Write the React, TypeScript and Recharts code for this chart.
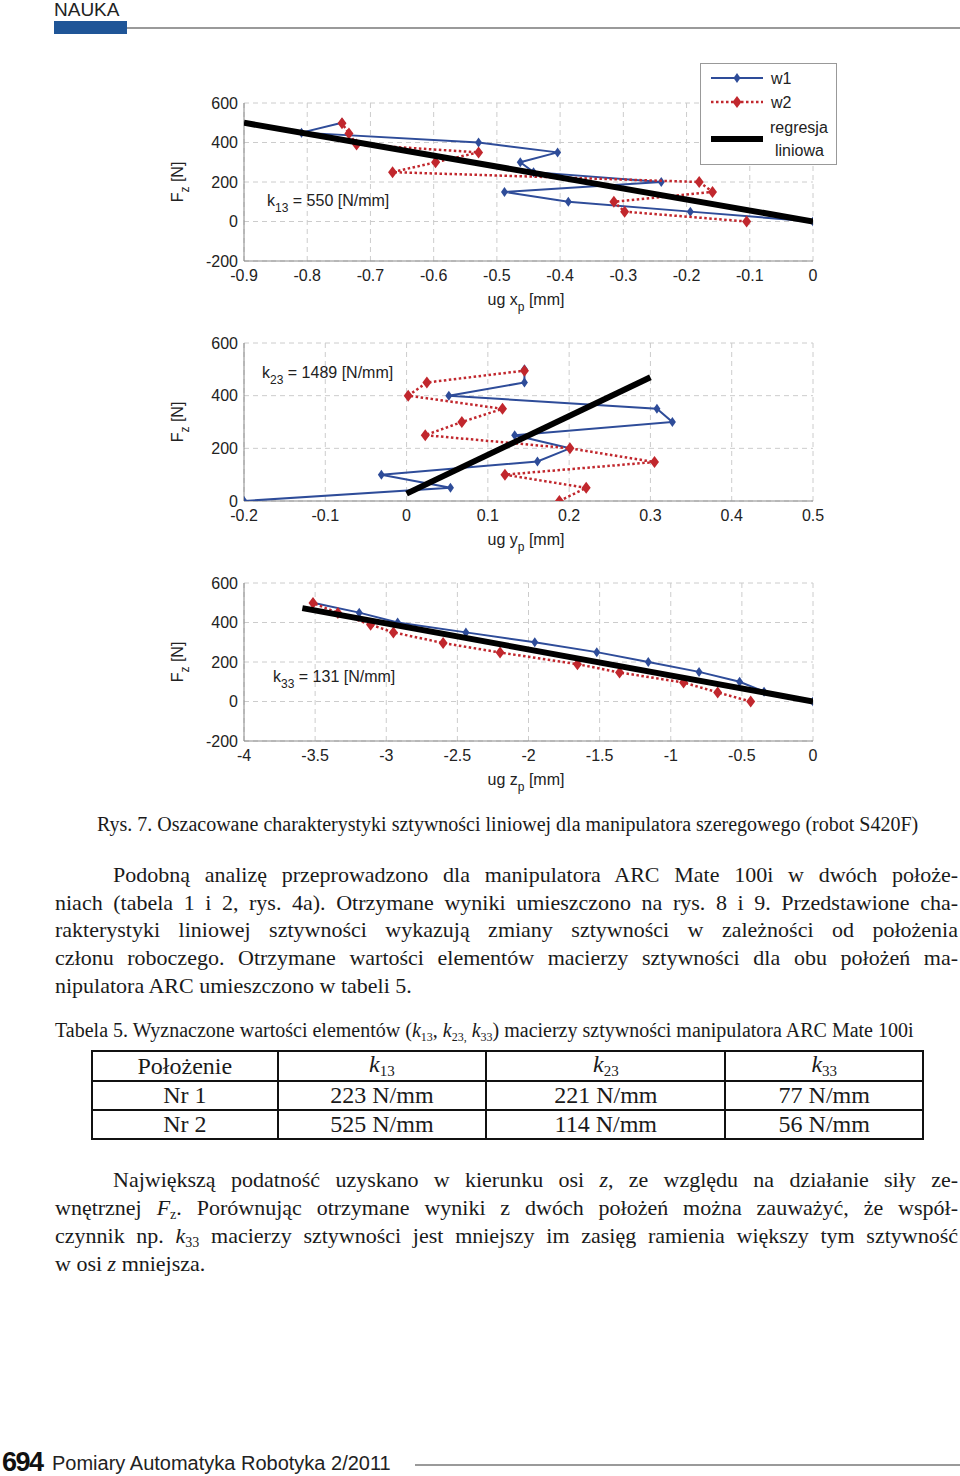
import React from 'react'
import { ScatterChart, Scatter, XAxis, YAxis, CartesianGrid } from 'recharts'

const SANS = '"Liberation Sans", Arial, sans-serif'
const SERIF = '"Liberation Serif", "Times New Roman", serif'
const BLUE = '#2e4c99'
const RED = '#c1272d'

// --- data ---
const fzW1 = [0, 50, 100, 150, 200, 250, 300, 350, 400, 450, 500]

const xW1 = [0, -0.194, -0.387, -0.488, -0.24, -0.442, -0.463, -0.404, -0.529, -0.809, -0.745]
const xW2 = [-0.105, -0.298, -0.315, -0.159, -0.18, -0.665, -0.597, -0.529, -0.722, -0.734, -0.745]
const xFzW2 = [0, 50, 100, 150, 200, 250, 300, 350, 390, 445, 498]
const xRegX = [-0.9, 0]
const xRegY = [500, 0]

const yW1 = [-0.2, 0.054, -0.031, 0.161, 0.201, 0.133, 0.327, 0.308, 0.052, 0.145, 0.145]
const yW2 = [0.188, 0.221, 0.121, 0.305, 0.201, 0.023, 0.068, 0.118, 0.002, 0.025, 0.145]
const yFzW2 = [0, 50, 100, 148, 200, 250, 300, 350, 400, 450, 495]
const yRegX = [0, 0.3]
const yRegY = [28, 470]

const zW1 = [0, -0.344, -0.516, -0.801, -1.158, -1.52, -1.956, -2.44, -2.92, -3.19, -3.515]
const zW2 = [-0.438, -0.67, -0.91, -1.36, -1.656, -2.2, -2.6, -2.95, -3.11, -3.34, -3.515]
const zFzW2 = [0, 46, 96, 147, 189, 248, 296, 350, 389, 448, 499]
const zRegX = [-3.59, 0]
const zRegY = [473, 0]

const xTicksX = [-0.9, -0.8, -0.7, -0.6, -0.5, -0.4, -0.3, -0.2, -0.1, 0]
const xTicksY = [-0.2, -0.1, 0, 0.1, 0.2, 0.3, 0.4, 0.5]
const xTicksZ = [-4, -3.5, -3, -2.5, -2, -1.5, -1, -0.5, 0]
const fzTicksFull = [-200, 0, 200, 400, 600]
const fzTicksPos = [0, 200, 400, 600]

const tableHead = ['Położenie', '13', '23', '33']
const tableRows = [
  ['Nr 1', '223 N/mm', '221 N/mm', '77 N/mm'],
  ['Nr 2', '525 N/mm', '114 N/mm', '56 N/mm'],
]

const zip = (xs: number[], ys: number[]) => xs.map((x, i) => ({ x, y: ys[i] }))

const diamond = (color: string, hw: number, hh: number) => (p: any) => {
  const { cx, cy } = p
  if (cx == null || cy == null) return <g />
  return (
    <polygon
      points={`${cx},${cy - hh} ${cx + hw},${cy} ${cx},${cy + hh} ${cx - hw},${cy}`}
      fill={color}
    />
  )
}
const noDot = () => <g />

type ChartProps = {
  top: number
  w1: { x: number; y: number }[]
  w2: { x: number; y: number }[]
  reg: { x: number; y: number }[]
  xDomain: [number, number]
  xTicks: number[]
  yDomain: [number, number]
  yTicks: number[]
}

function StiffChart({ top, w1, w2, reg, xDomain, xTicks, yDomain, yTicks }: ChartProps) {
  const tick = { fontSize: 16, fill: '#222', fontFamily: SANS }
  return (
    <div style={{ position: 'absolute', left: 160, top, width: 700, height: 270 }}>
      <ScatterChart width={700} height={270} margin={{ top: 43, right: 47, bottom: 39, left: 44 }}>
        <CartesianGrid stroke="#cccccc" strokeDasharray="5 4" />
        <XAxis
          type="number"
          dataKey="x"
          domain={xDomain}
          ticks={xTicks}
          interval={0}
          allowDataOverflow
          height={30}
          tick={tick}
          tickLine={false}
          tickMargin={3}
          axisLine={{ stroke: '#888' }}
        />
        <XAxis
          xAxisId="top"
          orientation="top"
          type="number"
          dataKey="x"
          domain={xDomain}
          height={0}
          tick={false}
          tickLine={false}
          axisLine={{ stroke: '#888' }}
        />
        <YAxis
          type="number"
          dataKey="y"
          domain={yDomain}
          ticks={yTicks}
          interval={0}
          allowDataOverflow
          width={40}
          tick={tick}
          tickLine={false}
          tickMargin={0}
          axisLine={{ stroke: '#888' }}
        />
        <YAxis
          yAxisId="right"
          orientation="right"
          type="number"
          dataKey="y"
          domain={yDomain}
          width={0}
          tick={false}
          tickLine={false}
          axisLine={{ stroke: '#888' }}
        />
        <Scatter
          data={w1}
          fill={BLUE}
          line={{ stroke: BLUE, strokeWidth: 2 }}
          shape={diamond(BLUE, 3.5, 5)}
          isAnimationActive={false}
        />
        <Scatter
          data={w2}
          fill={RED}
          line={{ stroke: RED, strokeWidth: 2.5, strokeDasharray: '2.5 2.5' }}
          shape={diamond(RED, 4.5, 6)}
          isAnimationActive={false}
        />
        <Scatter
          data={reg}
          fill="#000"
          line={{ stroke: '#000', strokeWidth: 6 }}
          shape={noDot}
          isAnimationActive={false}
        />
      </ScatterChart>
    </div>
  )
}

const subSans: React.CSSProperties = { fontSize: 12, position: 'relative', top: 6 }

function AxisTitles({ plotTop, v }: { plotTop: number; v: string }) {
  return (
    <>
      <div
        style={{
          position: 'absolute',
          left: 178,
          top: plotTop + 79,
          transform: 'translate(-50%, -50%) rotate(-90deg)',
          whiteSpace: 'nowrap',
          fontSize: 16,
          color: '#222',
        }}
      >
        F<span style={subSans}>z</span> [N]
      </div>
      <div
        style={{
          position: 'absolute',
          left: 526,
          top: plotTop + 197,
          transform: 'translate(-50%, -50%)',
          whiteSpace: 'nowrap',
          fontSize: 16,
          color: '#222',
        }}
      >
        ug {v}
        <span style={subSans}>p</span> [mm]
      </div>
    </>
  )
}

function KNote({ left, top, idx, val }: { left: number; top: number; idx: string; val: string }) {
  return (
    <div style={{ position: 'absolute', left, top, fontSize: 16, color: '#222', whiteSpace: 'nowrap', lineHeight: '20px' }}>
      k<span style={subSans}>{idx}</span> = {val} [N/mm]
    </div>
  )
}

function LegendBox() {
  const row = (y: number) => ({ position: 'absolute' as const, left: 70, top: y, fontSize: 16, color: '#222', lineHeight: '20px' })
  return (
    <div
      style={{
        position: 'absolute',
        left: 700,
        top: 63,
        width: 135,
        height: 100,
        border: '1px solid #999',
        background: '#fff',
      }}
    >
      <svg width={135} height={100} style={{ position: 'absolute', left: 0, top: 0 }}>
        <line x1={10} x2={62} y1={14} y2={14} stroke={BLUE} strokeWidth={2} />
        <polygon points="36,9 39.5,14 36,19 32.5,14" fill={BLUE} />
        <line x1={10} x2={62} y1={38} y2={38} stroke={RED} strokeWidth={2.5} strokeDasharray="2.5 2.5" />
        <polygon points="36,32 40.5,38 36,44 31.5,38" fill={RED} />
        <line x1={10} x2={62} y1={75} y2={75} stroke="#000" strokeWidth={6} />
      </svg>
      <div style={row(5)}>w1</div>
      <div style={row(29)}>w2</div>
      <div style={{ ...row(54), left: 69 }}>regresja</div>
      <div style={{ ...row(77), left: 74 }}>liniowa</div>
    </div>
  )
}

const para: React.CSSProperties = {
  position: 'absolute',
  left: 55,
  width: 903,
  fontFamily: SERIF,
  fontSize: 22,
  lineHeight: '28px',
  color: '#1a1a1a',
  textAlign: 'justify',
  textAlignLast: 'justify',
  whiteSpace: 'nowrap',
}

function Line({ top, indent, last, children }: { top: number; indent?: boolean; last?: boolean; children: React.ReactNode }) {
  return (
    <div
      style={{
        ...para,
        top,
        left: indent ? 113 : 55,
        width: indent ? 845 : 903,
        textAlignLast: last ? 'left' : 'justify',
      }}
    >
      {children}
    </div>
  )
}

const subSerif: React.CSSProperties = { fontSize: 14, position: 'relative', top: 4, fontStyle: 'normal' }

export default function App() {
  return (
    <div
      style={{
        position: 'absolute',
        left: 0,
        top: 0,
        width: 960,
        height: 1476,
        background: '#fff',
        overflow: 'hidden',
        fontFamily: SANS,
      }}
    >
      {/* header */}
      <div style={{ position: 'absolute', left: 54, top: 0, fontSize: 19, color: '#222', lineHeight: '20px' }}>NAUKA</div>
      <div style={{ position: 'absolute', left: 54, top: 21, width: 73, height: 13, background: '#1f5597' }} />
      <div style={{ position: 'absolute', left: 127, top: 27, width: 833, height: 2, background: '#9a9a9a' }} />

      {/* charts */}
      <StiffChart
        top={60}
        w1={zip(xW1, fzW1)}
        w2={zip(xW2, xFzW2)}
        reg={zip(xRegX, xRegY)}
        xDomain={[-0.9, 0]}
        xTicks={xTicksX}
        yDomain={[-200, 600]}
        yTicks={fzTicksFull}
      />
      <AxisTitles plotTop={103} v="x" />
      <KNote left={267} top={191} idx="13" val="550" />
      <LegendBox />

      <StiffChart
        top={300}
        w1={zip(yW1, fzW1)}
        w2={zip(yW2, yFzW2)}
        reg={zip(yRegX, yRegY)}
        xDomain={[-0.2, 0.5]}
        xTicks={xTicksY}
        yDomain={[0, 600]}
        yTicks={fzTicksPos}
      />
      <AxisTitles plotTop={343} v="y" />
      <KNote left={262} top={363} idx="23" val="1489" />

      <StiffChart
        top={540}
        w1={zip(zW1, fzW1)}
        w2={zip(zW2, zFzW2)}
        reg={zip(zRegX, zRegY)}
        xDomain={[-4, 0]}
        xTicks={xTicksZ}
        yDomain={[-200, 600]}
        yTicks={fzTicksFull}
      />
      <AxisTitles plotTop={583} v="z" />
      <KNote left={273} top={667} idx="33" val="131" />

      {/* caption */}
      <div
        style={{
          position: 'absolute',
          left: 97,
          top: 812,
          width: 821,
          fontFamily: SERIF,
          fontSize: 20,
          lineHeight: '24px',
          color: '#1a1a1a',
          whiteSpace: 'nowrap',
          textAlign: 'center',
        }}
      >
        Rys. 7. Oszacowane charakterystyki sztywności liniowej dla manipulatora szeregowego (robot S420F)
      </div>

      {/* paragraph 1 */}
      <Line top={861} indent>Podobną analizę przeprowadzono dla manipulatora ARC Mate 100i w dwóch położe-</Line>
      <Line top={889}>niach (tabela 1 i 2, rys. 4a). Otrzymane wyniki umieszczono na rys. 8 i 9. Przedstawione cha-</Line>
      <Line top={916}>rakterystyki liniowej sztywności wykazują zmiany sztywności w zależności od położenia</Line>
      <Line top={944}>członu roboczego. Otrzymane wartości elementów macierzy sztywności dla obu położeń ma-</Line>
      <Line top={972} last>nipulatora ARC umieszczono w tabeli 5.</Line>

      {/* table caption */}
      <div
        style={{
          position: 'absolute',
          left: 55,
          top: 1018,
          fontFamily: SERIF,
          fontSize: 20,
          lineHeight: '24px',
          color: '#1a1a1a',
          whiteSpace: 'nowrap',
        }}
      >
        Tabela 5. Wyznaczone wartości elementów (<i>k</i>
        <span style={{ ...subSerif, fontSize: 12 }}>13</span>, <i>k</i>
        <span style={{ ...subSerif, fontSize: 12 }}>23,</span> <i>k</i>
        <span style={{ ...subSerif, fontSize: 12 }}>33</span>) macierzy sztywności manipulatora ARC Mate 100i
      </div>

      {/* table */}
      <table
        style={{
          position: 'absolute',
          left: 91,
          top: 1050,
          width: 833,
          borderCollapse: 'collapse',
          fontFamily: SERIF,
          fontSize: 24,
          color: '#1a1a1a',
        }}
      >
        <colgroup>
          <col style={{ width: 186 }} />
          <col style={{ width: 209 }} />
          <col style={{ width: 240 }} />
          <col style={{ width: 198 }} />
        </colgroup>
        <tbody>
          <tr style={{ height: 29 }}>
            {tableHead.map((h, i) => (
              <td key={h} style={{ border: '2px solid #111', textAlign: 'center', padding: 0, lineHeight: '25px' }}>
                {i === 0 ? (
                  h
                ) : (
                  <>
                    <i>k</i>
                    <span style={{ ...subSerif, fontSize: 15 }}>{h}</span>
                  </>
                )}
              </td>
            ))}
          </tr>
          {tableRows.map((r) => (
            <tr key={r[0]} style={{ height: 29 }}>
              {r.map((c, i) => (
                <td key={i} style={{ border: '2px solid #111', textAlign: 'center', padding: 0, lineHeight: '25px' }}>
                  {c}
                </td>
              ))}
            </tr>
          ))}
        </tbody>
      </table>

      {/* paragraph 2 */}
      <Line top={1166} indent>
        Największą podatność uzyskano w kierunku osi <i>z</i>, ze względu na działanie siły ze-
      </Line>
      <Line top={1194}>
        wnętrznej <i>F</i>
        <i style={subSerif}>z</i>. Porównując otrzymane wyniki z dwóch położeń można zauważyć, że współ-
      </Line>
      <Line top={1222}>
        czynnik np. <i>k</i>
        <span style={subSerif}>33</span> macierzy sztywności jest mniejszy im zasięg ramienia większy tym sztywność
      </Line>
      <Line top={1250} last>
        w osi <i>z</i> mniejsza.
      </Line>

      {/* footer */}
      <div style={{ position: 'absolute', left: 2, top: 1450, fontSize: 27, fontWeight: 'bold', color: '#111', lineHeight: '25px', letterSpacing: -1.5 }}>
        694
      </div>
      <div style={{ position: 'absolute', left: 52, top: 1451, fontSize: 20, color: '#222', lineHeight: '24px' }}>
        Pomiary Automatyka Robotyka 2/2011
      </div>
      <div style={{ position: 'absolute', left: 415, top: 1464, width: 545, height: 2, background: '#9a9a9a' }} />
    </div>
  )
}
